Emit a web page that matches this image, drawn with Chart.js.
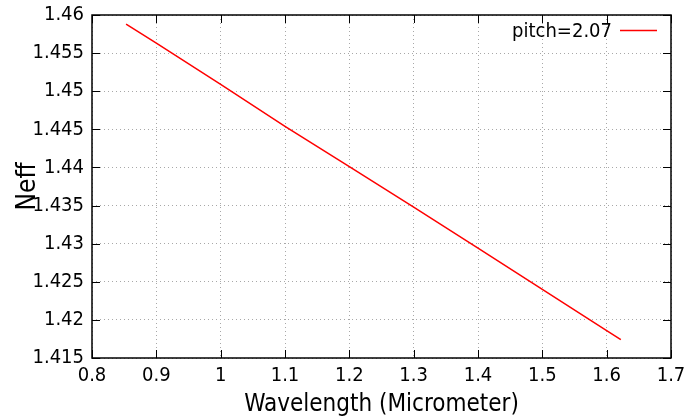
<!DOCTYPE html>
<html>
<head>
<meta charset="utf-8">
<script src="https://cdn.jsdelivr.net/npm/chart.js@4.4.0/dist/chart.umd.min.js"></script>
<style>
  html, body { margin: 0; padding: 0; background: #fff; }
</style>
</head>
<body>
<canvas id="chart" width="691" height="416"></canvas>
<script>
// data
const wavelength = [0.853, 0.9, 1.0, 1.1, 1.2, 1.3, 1.4, 1.5, 1.6, 1.622];
const neff = [1.4588, 1.4563, 1.4509, 1.4454, 1.4401, 1.4348, 1.4294, 1.4240, 1.4186, 1.4174];
const seriesLabel = 'pitch=2.07';

const xTickValues = [0.8, 0.9, 1.0, 1.1, 1.2, 1.3, 1.4, 1.5, 1.6, 1.7];
const xTickLabels = ['0.8', '0.9', '1', '1.1', '1.2', '1.3', '1.4', '1.5', '1.6', '1.7'];
const yTickValues = [1.415, 1.42, 1.425, 1.43, 1.435, 1.44, 1.445, 1.45, 1.455, 1.46];
const yTickLabels = ['1.415', '1.42', '1.425', '1.43', '1.435', '1.44', '1.445', '1.45', '1.455', '1.46'];

const FONT = '"DejaVu Sans Condensed", "DejaVu Sans", sans-serif';
const lineColor = '#ff0000';

// gnuplot style box with inward ticks on all four sides
const framePlugin = {
	id: 'frame',
	afterDraw(chart) {
		const { ctx, chartArea: a, scales } = chart;
		ctx.save();
		ctx.strokeStyle = '#000';
		ctx.lineWidth = 1;
		ctx.beginPath();
		xTickValues.forEach(v => {
			const x = Math.round(scales.x.getPixelForValue(v)) + 0.5;
			ctx.moveTo(x, a.bottom); ctx.lineTo(x, a.bottom - 8);
			ctx.moveTo(x, a.top); ctx.lineTo(x, a.top + 8);
		});
		yTickValues.forEach(v => {
			const y = Math.round(scales.y.getPixelForValue(v)) + 0.5;
			ctx.moveTo(a.left, y); ctx.lineTo(a.left + 8, y);
			ctx.moveTo(a.right, y); ctx.lineTo(a.right - 8, y);
		});
		ctx.stroke();
		ctx.lineWidth = 1.5;
		ctx.strokeRect(a.left, a.top, a.right - a.left, a.bottom - a.top);
		ctx.restore();
	}
};

// legend: text first, then the line sample
const legendPlugin = {
	id: 'gpLegend',
	afterDraw(chart) {
		const { ctx, chartArea: a } = chart;
		ctx.save();
		ctx.font = '20px ' + FONT;
		ctx.fillStyle = '#000';
		ctx.textAlign = 'right';
		ctx.textBaseline = 'middle';
		ctx.fillText(seriesLabel, a.right - 59, a.top + 17);
		ctx.strokeStyle = lineColor;
		ctx.lineWidth = 1.5;
		ctx.beginPath();
		ctx.moveTo(a.right - 51, a.top + 15.5);
		ctx.lineTo(a.right - 14, a.top + 15.5);
		ctx.stroke();
		ctx.restore();
	}
};

const ctx = document.getElementById('chart').getContext('2d');
new Chart(ctx, {
	type: 'scatter',
	data: {
		datasets: [
			{
				label: seriesLabel,
				data: wavelength.map((w, i) => ({ x: w, y: neff[i] })),
				showLine: true,
				borderColor: lineColor,
				backgroundColor: lineColor,
				borderWidth: 1.5,
				pointRadius: 0,
				tension: 0,
			},
		],
	},
	options: {
		responsive: false,
		animation: false,
		layout: { padding: { left: 0, right: 20, top: 15, bottom: 0 } },
		plugins: {
			legend: { display: false },
			tooltip: { enabled: false },
		},
		scales: {
			x: {
				type: 'linear',
				min: 0.8,
				max: 1.7,
				afterBuildTicks: s => { s.ticks = xTickValues.map(v => ({ value: v })); },
				afterFit: s => { s.height = 58; s.paddingLeft = 0; s.paddingRight = 0; },
				grid: { color: '#a8a8a8', lineWidth: 1, drawTicks: false },
				border: { display: false, dash: [1, 3] },
				ticks: {
					padding: 6,
					color: '#000',
					font: { family: FONT, size: 20 },
					maxRotation: 0,
					autoSkip: false,
					callback: (v, i) => xTickLabels[i],
				},
				title: {
					display: true,
					text: 'Wavelength (Micrometer)',
					color: '#000',
					font: { family: FONT, size: 24 },
					padding: { top: 0, bottom: -3 },
				},
			},
			y: {
				type: 'linear',
				min: 1.415,
				max: 1.46,
				afterBuildTicks: s => { s.ticks = yTickValues.map(v => ({ value: v })); },
				afterFit: s => { s.width = 92; s.paddingTop = 0; s.paddingBottom = 0; },
				grid: { color: '#a8a8a8', lineWidth: 1, drawTicks: false },
				border: { display: false, dash: [1, 3] },
				ticks: {
					padding: 8,
					color: '#000',
					font: { family: FONT, size: 20 },
					autoSkip: false,
					callback: (v, i) => yTickLabels[i],
				},
				title: {
					display: true,
					text: 'Neff',
					color: '#000',
					font: { family: FONT, size: 26 },
					padding: { top: 13, bottom: 0 },
				},
			},
		},
	},
	plugins: [framePlugin, legendPlugin],
});
</script>
</body>
</html>
